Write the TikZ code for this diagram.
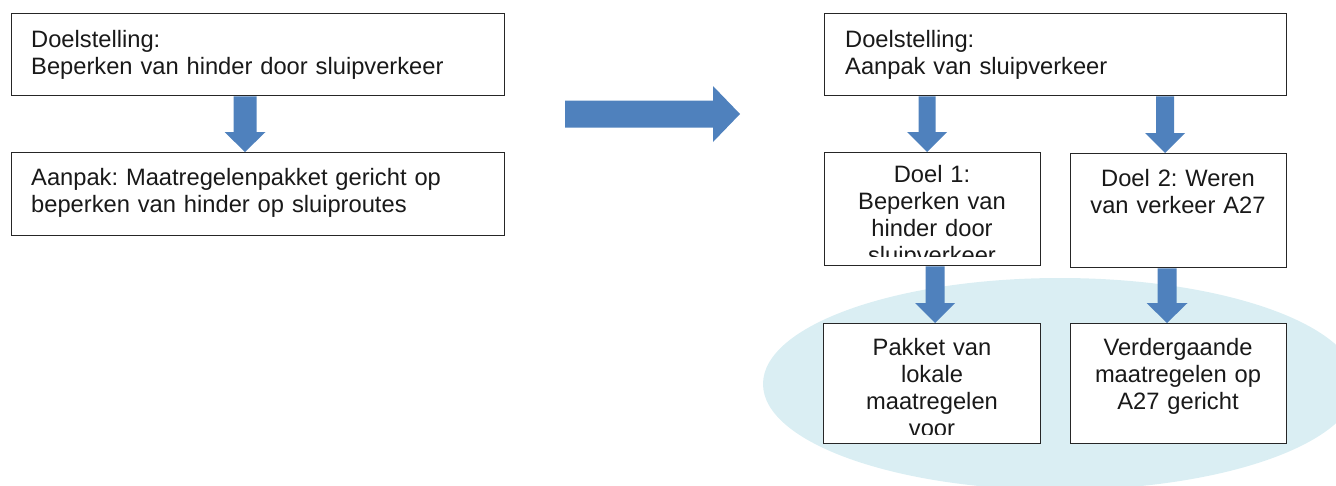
\documentclass[tikz,border=0pt]{standalone}
\usepackage{fontspec}
\setmainfont{Liberation Sans}
\frenchspacing
\usetikzlibrary{calc}
\definecolor{arrowblue}{HTML}{4F81BD}
\definecolor{ovalblue}{HTML}{DAEEF3}
\newcommand\blockarrow[5]{% #1 source, #2 target, #3 centre x, #4 half shaft, #5 half head
  \fill[arrowblue] let \p1=(#1.south), \p2=(#2.north) in
    (#3-#4,\y1) -- (#3+#4,\y1) -- (#3+#4,\y2+20pt) -- (#3+#5,\y2+20pt) -- (#3,\y2)
    -- (#3-#5,\y2+20pt) -- (#3-#4,\y2+20pt) -- cycle;}
\begin{document}
\begin{tikzpicture}[x=1pt,y=-1pt,
  box/.style={draw=black!85, line width=1.3pt, fill=white, inner sep=0pt, anchor=north west},
  txt/.style={inner sep=0pt, font=\fontsize{23.7}{27}\selectfont, text=black!90},
  ltxt/.style={txt, align=left, anchor=base west, text width=460pt},
  ctxt/.style={txt, align=center, anchor=base, text width=210pt}]
\useasboundingbox (0,0) rectangle (1336,485);
\clip (0,0) rectangle (1336,485);
% oval behind the lower boxes
\fill[ovalblue] (1060,384) ellipse [x radius=297, y radius=106];
% left side
\node[box, minimum width=493pt, minimum height=82pt] (L1) at (11,13) {};
\node[box, minimum width=493pt, minimum height=83pt] (L2) at (11,152) {};
\node[ltxt] (L1t) at (31,47) {Doelstelling:\\Beperken van hinder door sluipverkeer};
\node[ltxt] (L2t) at (31,185) {Aanpak: Maatregelenpakket gericht op\\beperken van hinder op sluiproutes};
\blockarrow{L1}{L2}{245}{11.5}{20.5}
% big arrow
\coordinate (BA) at (565,114);
\coordinate (BB) at (740,114);
\fill[arrowblue] ($(BA)+(0,-13.5)$) -- ($(BB)+(-27,-13.5)$) -- ($(BB)+(-27,-28)$) -- (BB)
  -- ($(BB)+(-27,28)$) -- ($(BB)+(-27,13.5)$) -- ($(BA)+(0,13.5)$) -- cycle;
% right side
\node[box, minimum width=462pt, minimum height=82pt] (R1) at (824,13) {};
\node[ltxt] (R1t) at (845,47) {Doelstelling:\\Aanpak van sluipverkeer};
\node[box, minimum width=216pt, minimum height=113pt] (D1) at (824,152) {};
\node[box, minimum width=216pt, minimum height=114pt] (D2) at (1070,153) {};
\node[box, minimum width=217pt, minimum height=120pt] (P) at (823,323) {};
\node[box, minimum width=216pt, minimum height=120pt] (V) at (1070,323) {};
\begin{scope}
  \clip (D1.north west) rectangle ($(D1.south east)+(0,-10)$);
  \node[ctxt] (D1t) at (932,182) {Doel 1:\\Beperken van\\hinder door\\sluipverkeer};
\end{scope}
\node[ctxt] (D2t) at (1178,186) {Doel 2: Weren\\van verkeer A27};
\begin{scope}
  \clip (P.north west) rectangle ($(P.south east)+(0,-10)$);
  \node[ctxt] (Pt) at (932,355) {Pakket van\\lokale\\maatregelen\\voor};
\end{scope}
\node[ctxt] (Vt) at (1178,355) {Verdergaande\\maatregelen op\\A27 gericht};
\blockarrow{R1}{D1}{927}{8.5}{20}
\blockarrow{R1}{D2}{1165}{9}{20}
\blockarrow{D1}{P}{935}{9.5}{20}
\blockarrow{D2}{V}{1167}{9.5}{20.5}
\end{tikzpicture}
\end{document}
